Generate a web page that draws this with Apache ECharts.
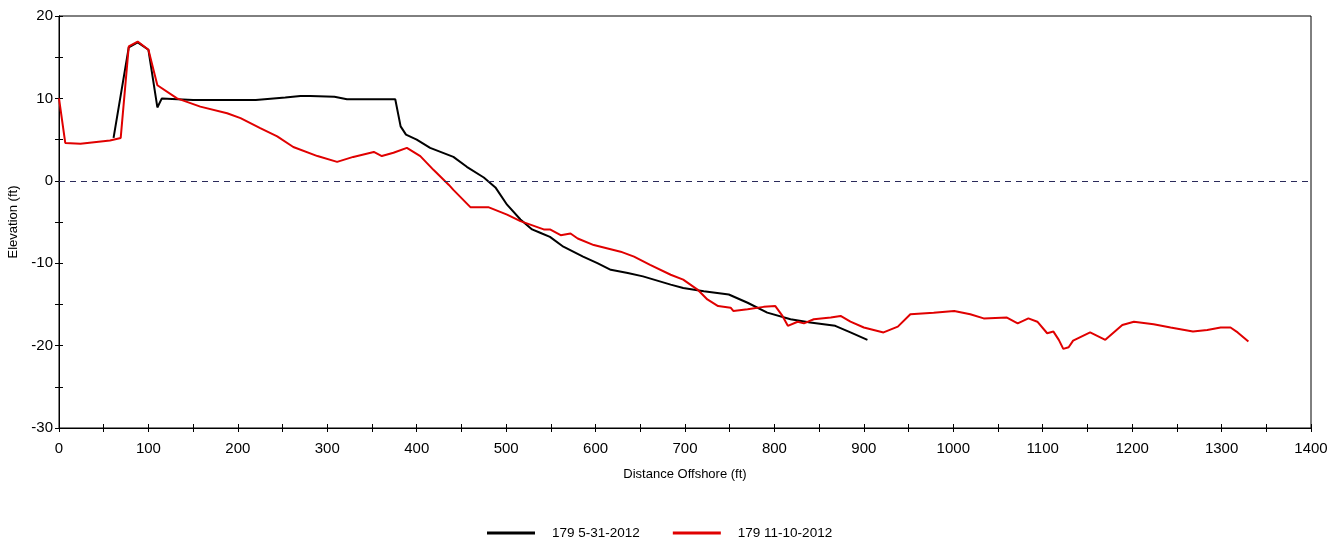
<!DOCTYPE html>
<html>
<head>
<meta charset="utf-8">
<script src="https://cdn.jsdelivr.net/npm/echarts@6/dist/echarts.min.js"></script>
<style>html,body{margin:0;padding:0;background:#fff}#c{width:1343px;height:544px}</style>
</head>
<body>
<div id="c"></div>
<script>
const seriesNames = ['179 5-31-2012', '179 11-10-2012'];

const mayX = [61, 78, 88, 100, 110, 115, 150, 220, 253, 270, 281, 308, 322, 376, 382, 388, 400, 415, 441, 456, 475, 488, 501, 516, 529, 538, 549, 564, 586, 602, 617, 636, 653, 684, 698, 721, 749, 770, 792, 818, 840, 868, 885, 904];
const mayY = [5.2, 16.2, 16.8, 15.9, 8.9, 10.0, 9.8, 9.8, 10.1, 10.3, 10.3, 10.2, 9.9, 9.9, 6.6, 5.6, 5.0, 4.0, 2.9, 1.7, 0.4, -0.8, -2.9, -4.7, -5.9, -6.3, -6.8, -8.0, -9.2, -10.0, -10.8, -11.2, -11.6, -12.6, -13.0, -13.4, -13.8, -14.8, -16.0, -16.8, -17.2, -17.6, -18.4, -19.3];

const novX = [0, 7, 24, 57, 69, 78, 88, 100, 110, 132, 158, 188, 203, 225, 244, 262, 289, 311, 329, 352, 361, 374, 389, 404, 419, 436, 441, 460, 480, 501, 516, 542, 549, 561, 572, 580, 598, 628, 643, 661, 684, 698, 714, 725, 737, 751, 754, 770, 788, 801, 809, 815, 826, 833, 844, 863, 874, 885, 900, 922, 938, 952, 978, 1001, 1019, 1034, 1060, 1072, 1084, 1094, 1105, 1112, 1118, 1123, 1129, 1134, 1153, 1170, 1189, 1202, 1224, 1243, 1268, 1284, 1299, 1310, 1318, 1330];
const novY = [10.0, 4.6, 4.5, 4.9, 5.2, 16.3, 16.9, 15.9, 11.6, 10.0, 9.0, 8.2, 7.6, 6.4, 5.4, 4.1, 3.0, 2.3, 2.9, 3.5, 3.0, 3.4, 4.0, 3.0, 1.3, -0.5, -1.1, -3.2, -3.2, -4.1, -4.9, -5.9, -5.9, -6.6, -6.4, -7.0, -7.8, -8.6, -9.2, -10.2, -11.4, -12.0, -13.2, -14.4, -15.2, -15.4, -15.8, -15.6, -15.3, -15.2, -16.4, -17.6, -17.1, -17.3, -16.8, -16.6, -16.4, -17.1, -17.8, -18.4, -17.7, -16.2, -16.0, -15.8, -16.2, -16.7, -16.6, -17.3, -16.7, -17.1, -18.5, -18.3, -19.3, -20.4, -20.2, -19.4, -18.4, -19.3, -17.5, -17.1, -17.4, -17.8, -18.3, -18.1, -17.8, -17.8, -18.4, -19.5];

const xTickLabels = [0, 100, 200, 300, 400, 500, 600, 700, 800, 900, 1000, 1100, 1200, 1300, 1400];
const yTickLabels = [-30, -20, -10, 0, 10, 20];

const zip = (xs, ys) => xs.map((x, i) => [x, ys[i]]);
const FONT = "'Liberation Sans', Arial, sans-serif";

const baseX = {
  type: 'value', min: 0, max: 1400, interval: 50,
  axisLine: { show: true, onZero: false, lineStyle: { color: '#000', width: 1 } },
  splitLine: { show: false }
};
const baseY = {
  type: 'value', min: -30, max: 20, interval: 5,
  axisLine: { show: true, onZero: false, lineStyle: { color: '#000', width: 1 } },
  splitLine: { show: false }
};

const chart = echarts.init(document.getElementById('c'), null, { renderer: 'canvas' });
chart.setOption({
  animation: false,
  backgroundColor: '#fff',
  grid: { left: 59, right: 32, top: 16, bottom: 116, outerBoundsMode: 'none', containLabel: false,
    show: true, borderColor: '#000', borderWidth: 1, backgroundColor: 'transparent' },
  xAxis: [
    Object.assign({}, baseX, {
      name: 'Distance Offshore (ft)', nameLocation: 'middle', nameGap: 40,
      nameTextStyle: { fontFamily: FONT, fontSize: 13, color: '#000' },
      axisTick: { show: true, inside: false, length: 4, lineStyle: { color: '#000' } },
      axisLabel: { fontFamily: FONT, fontSize: 15, color: '#000', margin: 13,
        formatter: v => xTickLabels.includes(v) ? String(v) : '' }
    }),
    Object.assign({}, baseX, {
      position: 'bottom',
      axisTick: { show: true, inside: true, length: 4, lineStyle: { color: '#000' } },
      axisLabel: { show: false }
    })
  ],
  yAxis: [
    Object.assign({}, baseY, {
      name: 'Elevation (ft)', nameLocation: 'middle', nameGap: 38, nameRotate: 90,
      nameTextStyle: { fontFamily: FONT, fontSize: 13, color: '#000' },
      axisTick: { show: true, inside: false, length: 4, lineStyle: { color: '#000' } },
      axisLabel: { fontFamily: FONT, fontSize: 15, color: '#000', margin: 6,
        formatter: v => yTickLabels.includes(v) ? String(v) : '' }
    }),
    Object.assign({}, baseY, {
      position: 'left',
      axisTick: { show: true, inside: true, length: 4, lineStyle: { color: '#000' } },
      axisLabel: { show: false }
    })
  ],
  legend: {
    top: 521, left: 482,
    itemWidth: 48, itemHeight: 3, itemGap: 33,
    icon: 'rect',
    textStyle: { fontFamily: FONT, fontSize: 13.5, color: '#000', padding: [0, 0, 0, 12] },
    data: seriesNames
  },
  series: [
    {
      name: seriesNames[0], type: 'line', xAxisIndex: 0, yAxisIndex: 0,
      data: zip(mayX, mayY), showSymbol: false, symbol: 'none',
      lineStyle: { color: '#000', width: 2 }, itemStyle: { color: '#000' },
      markLine: {
        silent: true, symbol: 'none', label: { show: false },
        lineStyle: { color: '#2a2a5a', type: [6, 5], width: 1 },
        data: [{ yAxis: 0 }]
      }
    },
    {
      name: seriesNames[1], type: 'line', xAxisIndex: 0, yAxisIndex: 0,
      data: zip(novX, novY), showSymbol: false, symbol: 'none',
      lineStyle: { color: '#e00000', width: 2 }, itemStyle: { color: '#e00000' }
    }
  ]
});
</script>
</body>
</html>
